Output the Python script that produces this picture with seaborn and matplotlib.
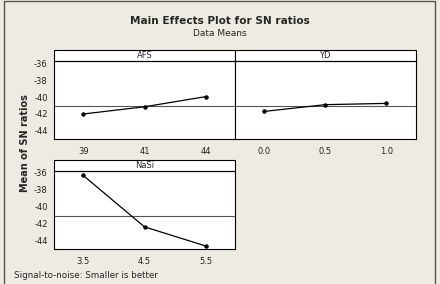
import matplotlib
matplotlib.use('Agg')
import matplotlib.pyplot as plt
import seaborn as sns
from matplotlib.patches import Rectangle

afs_levels = ['39', '41', '44']
afs_sn = [-42.0, -41.15, -39.95]
yd_levels = ['0.0', '0.5', '1.0']
yd_sn = [-41.7, -40.9, -40.75]
nasi_levels = ['3.5', '4.5', '5.5']
nasi_sn = [-36.3, -42.35, -44.6]
grand_mean = -41.1
yticks = [-36, -38, -40, -42, -44]

sns.set_style('white')
plt.rcParams['font.family'] = ['DejaVu Sans']
plt.rcParams['axes.unicode_minus'] = False

bg = '#EEEBE2'
fig = plt.figure(figsize=(4.4, 2.84), dpi=100, facecolor=bg)

W, H = 440, 284
def box(x0, y0, x1, y1):
    return [x0 / W, 1 - y1 / H, (x1 - x0) / W, (y1 - y0) / H]

panels = [
    ('AFS', afs_levels, afs_sn, box(54, 61, 235, 139), True),
    ('YD', yd_levels, yd_sn, box(235, 61, 415.5, 139), False),
    ('NaSi', nasi_levels, nasi_sn, box(54, 170.7, 235, 249), True),
]

for name, levels, vals, pos, show_y in panels:
    ax = fig.add_axes(pos)
    ax.set_facecolor('white')
    ax.axhline(grand_mean, color='#555555', lw=0.8, zorder=1)
    sns.pointplot(x=levels, y=vals, ax=ax, color='black', markersize=2.5,
                  linewidth=0.9, zorder=3)
    ax.set_xlim(-0.475, 2.475)
    ax.set_ylim(-44.95, -35.75)
    ax.set_yticks(yticks)
    ax.tick_params(axis='both', labelsize=6, length=2.5, width=0.6,
                   direction='out', pad=2, colors='#222222')
    ax.tick_params(axis='x', pad=3)
    if not show_y:
        ax.set_yticks([])
    for s in ax.spines.values():
        s.set_color('black')
        s.set_linewidth(0.8)
    ax.set_xlabel('')
    ax.set_ylabel('')
    # strip header
    sh = 11 / (pos[3] * H)
    ax.add_patch(Rectangle((0, 1), 1, sh, transform=ax.transAxes,
                           facecolor='white', edgecolor='black', lw=0.8,
                           clip_on=False))
    ax.text(0.5, 1 + sh / 2, name, transform=ax.transAxes, ha='center',
            va='center', fontsize=6)

fig.text(0.5, 1 - 21 / H, 'Main Effects Plot for SN ratios', ha='center',
         va='center', fontsize=7.6, fontweight='bold')
fig.text(0.5, 1 - 34 / H, 'Data Means', ha='center', va='center', fontsize=6.5)
fig.text(25 / W, 1 - 143 / H, 'Mean of SN ratios', ha='center', va='center',
         rotation=90, fontsize=7, fontweight='bold')
fig.text(14 / W, 1 - 276 / H, 'Signal-to-noise: Smaller is better', ha='left',
         va='center', fontsize=6.3)

fig.patches.append(Rectangle((4 / W, -0.05), (435 - 4) / W, 1.05 - 1.5 / H,
                             transform=fig.transFigure, fill=False,
                             edgecolor='#555555', lw=1.0))

fig.savefig('out.png', dpi=100, facecolor=bg)
